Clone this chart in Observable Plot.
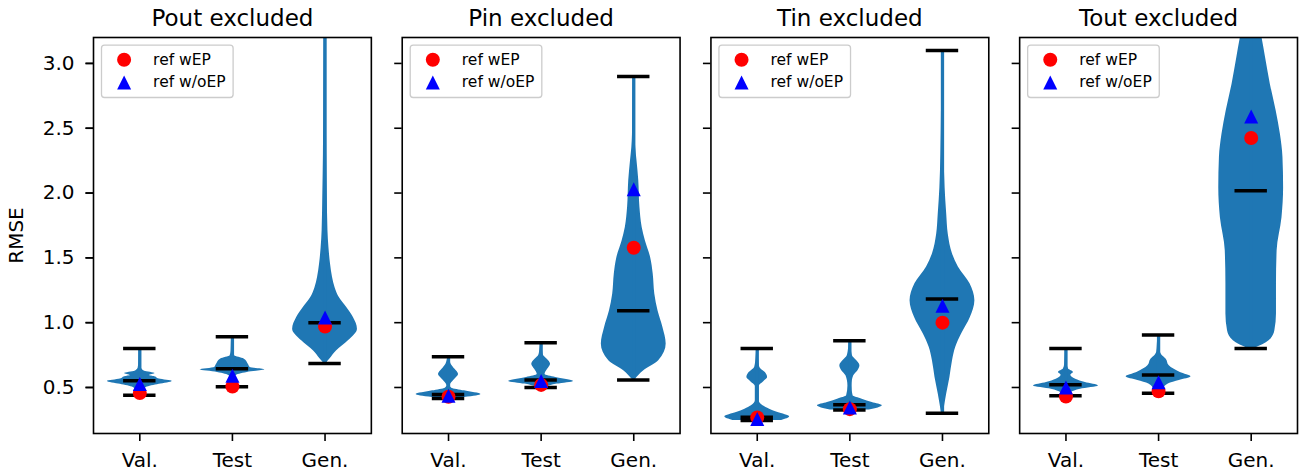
<!DOCTYPE html>
<html><head><meta charset="utf-8">
<script src="https://cdn.jsdelivr.net/npm/d3@7"></script>
<script src="https://cdn.jsdelivr.net/npm/@observablehq/plot@0.6"></script>
<style>
html,body{margin:0;padding:0;background:#fff;}
#chart svg{display:block;}
</style></head><body><div id="chart"></div>
<script>
// ---- data ----
const panels = ["Pout excluded", "Pin excluded", "Tin excluded", "Tout excluded"];
const splits = ["Val.", "Test", "Gen."];
const yTicks = [0.5, 1.0, 1.5, 2.0, 2.5, 3.0];

// per panel: [Val., Test, Gen.]
const mins    = [[0.44, 0.505, 0.685], [0.415, 0.50, 0.557], [0.245, 0.326, 0.302], [0.436, 0.455, 0.80]];
const maxs    = [[0.80, 0.891, 3.60],  [0.737, 0.845, 2.90], [0.80, 0.86, 3.10],    [0.80, 0.904, 3.60]];
const medians = [[0.552, 0.644, 1.00], [0.445, 0.557, 1.092], [0.27, 0.367, 1.182], [0.521, 0.596, 2.018]];
const refWEP  = [[0.457, 0.508, 0.971], [0.428, 0.52, 1.578], [0.268, 0.333, 1.00], [0.43, 0.47, 2.425]];
const refWoEP = [[0.526, 0.59, 1.04],  [0.436, 0.55, 2.03],  [0.256, 0.345, 1.13], [0.50, 0.54, 2.59]];

// violin density profiles: [RMSE, relative density]
const poutVal  = [[.44,.03],[.47,.08],[.50,.2],[.525,.6],[.547,1],[.565,.6],[.583,.46],[.592,.3],[.608,.47],[.625,.15],[.65,.05],[.70,.03],[.80,.02]];
const poutTest = [[.505,.03],[.56,.05],[.59,.1],[.616,.46],[.636,1],[.655,.55],[.68,.49],[.72,.36],[.745,.07],[.78,.04],[.85,.03],[.891,.02]];
const poutGen  = [[.685,.03],[.72,.15],[.783,.36],[.86,.72],[.95,1],[1.04,.875],[1.117,.67],[1.194,.44],[1.27,.31],[1.35,.23],[1.45,.17],[1.58,.12],[1.71,.09],[1.97,.07],[2.3,.05],[2.8,.04],[3.3,.03],[3.6,.02]];
const pinVal   = [[.415,.1],[.423,.49],[.445,1],[.474,.49],[.495,.1],[.513,.05],[.56,.18],[.60,.31],[.64,.2],[.68,.08],[.71,.04],[.737,.02]];
const pinTest  = [[.50,.1],[.526,.5],[.547,1],[.577,.45],[.60,.12],[.64,.2],[.68,.29],[.72,.18],[.745,.08],[.79,.04],[.845,.02]];
const pinGen   = [[.557,.03],[.629,.31],[.706,.77],[.835,1],[.963,.9],[1.09,.75],[1.22,.65],[1.375,.6],[1.503,.52],[1.63,.36],[1.735,.26],[1.89,.19],[2.095,.155],[2.25,.1],[2.35,.06],[2.45,.04],[2.7,.03],[2.90,.02]];
const tinVal   = [[.245,.75],[.274,1],[.307,.64],[.333,.38],[.359,.18],[.398,.06],[.51,.06],[.545,.2],[.577,.32],[.615,.25],[.655,.08],[.72,.04],[.80,.02]];
const tinTest  = [[.326,.6],[.359,1],[.384,.69],[.41,.38],[.436,.1],[.512,.06],[.59,.12],[.63,.25],[.668,.31],[.71,.2],[.745,.08],[.80,.04],[.86,.02]];
const tinGen   = [[.302,.03],[.449,.13],[.577,.23],[.706,.31],[.81,.41],[.912,.59],[1.04,.86],[1.17,1],[1.30,.85],[1.43,.49],[1.53,.31],[1.68,.18],[1.84,.13],[2.04,.08],[2.3,.05],[2.65,.03],[3.10,.02]];
const toutVal  = [[.436,.05],[.46,.15],[.487,.45],[.512,1],[.538,.6],[.564,.3],[.595,.15],[.616,.23],[.642,.08],[.68,.04],[.80,.02]];
const toutTest = [[.455,.05],[.49,.15],[.526,.3],[.553,.64],[.582,1],[.616,.67],[.667,.33],[.72,.23],[.745,.12],[.77,.06],[.83,.04],[.904,.02]];
const toutGen  = [[.80,.1],[.86,.55],[.937,.73],[1.066,.78],[1.30,.78],[1.555,.8],[1.81,.95],[2.04,1],[2.275,.98],[2.455,.9],[2.635,.77],[2.84,.59],[3.05,.44],[3.19,.34],[3.3,.25],[3.45,.12],[3.6,.03]];

const profiles = [[poutVal, poutTest, poutGen], [pinVal, pinTest, pinGen], [tinVal, tinTest, tinGen], [toutVal, toutTest, toutGen]];

// ---- tables built from arrays ----
const violinRows = [], statRows = [], lineRows = [];
panels.forEach((panel, p) => {
  splits.forEach((s, i) => {
    const pos = i + 1;
    profiles[p][i].forEach(([y, w]) => violinRows.push({panel, pos, key: panel + s, y, w}));
    statRows.push({panel, pos, min: mins[p][i], max: maxs[p][i], wep: refWEP[p][i], woep: refWoEP[p][i]});
    [mins[p][i], maxs[p][i], medians[p][i]].forEach(v => lineRows.push({panel, pos, v}));
  });
});

// ---- layout ----
const W = 1307, H = 474, mL = 93, mR = 10, mT = 37, mB = 41;
const pad = 0.1;
const bw = (W - mL - mR) / (panels.length - pad) * (1 - pad);
const vHalf = 0.35, lineHalf = 0.175;
const blue = "#1f77b4";

const tri = {draw(ctx, size) {
  const h = Math.sqrt(size / Math.PI);
  ctx.moveTo(0, -h); ctx.lineTo(h, h); ctx.lineTo(-h, h); ctx.closePath();
}};

const chart = Plot.plot({
  width: W, height: H,
  marginLeft: mL, marginRight: mR, marginTop: mT, marginBottom: mB,
  style: {fontFamily: "DejaVu Sans", fontSize: "20px", color: "black", background: "white"},
  fx: {domain: panels, paddingInner: pad, paddingOuter: 0, round: false, label: null},
  x: {domain: [0.5, 3.5]},
  y: {domain: [0.145, 3.2]},
  marks: [
    Plot.areaX(violinRows, {fx: "panel", y: "y", x1: d => d.pos - vHalf * d.w, x2: d => d.pos + vHalf * d.w, z: "key", fill: blue, curve: "monotone-y", clip: true}),
    Plot.ruleX(statRows, {fx: "panel", x: "pos", y1: "min", y2: "max", stroke: blue, strokeWidth: 3.3, clip: true}),
    Plot.ruleY(lineRows, {fx: "panel", y: "v", x1: d => d.pos - lineHalf, x2: d => d.pos + lineHalf, stroke: "black", strokeWidth: 3.5, clip: true}),
    Plot.dot(statRows, {fx: "panel", x: "pos", y: "wep", r: 7, fill: "red", symbol: "circle"}),
    Plot.dot(statRows, {fx: "panel", x: "pos", y: "woep", r: 7, fill: "blue", symbol: tri}),
    Plot.frame({stroke: "black", strokeWidth: 1.6}),
    // legend
    Plot.frame({insetLeft: 8, insetTop: 7.6, insetRight: bw - 139.6, insetBottom: (H - mT - mB) - 60, fill: "white", fillOpacity: 0.8, stroke: "#cccccc", strokeWidth: 1.3, rx: 3}),
    Plot.dot([0], {frameAnchor: "top-left", dx: 30.6, dy: 22.3, r: 7, fill: "red", symbol: "circle"}),
    Plot.dot([0], {frameAnchor: "top-left", dx: 30.6, dy: 45, r: 7, fill: "blue", symbol: tri}),
    Plot.text(["ref wEP"], {frameAnchor: "top-left", dx: 59.6, dy: 22.3, textAnchor: "start", lineAnchor: "middle", fontSize: 15.5}),
    Plot.text(["ref w/oEP"], {frameAnchor: "top-left", dx: 59.6, dy: 45, textAnchor: "start", lineAnchor: "middle", fontSize: 15.5}),
    // axes
    Plot.axisFx({anchor: "top", label: null, tickSize: 0, tickPadding: 12, fontSize: 23}),
    Plot.axisX({ticks: [1, 2, 3], tickFormat: d => splits[d - 1], tickSize: 8, tickPadding: 11, strokeWidth: 1.6, label: null, fontSize: 20}),
    Plot.axisY({ticks: yTicks, tickFormat: d => d.toFixed(1), tickSize: 7.5, tickPadding: 11.5, strokeWidth: 1.6, label: "RMSE", labelAnchor: "center", labelArrow: "none", labelOffset: 85, fontSize: 20}),
    Plot.axisY({ticks: yTicks, tickFormat: () => "", tickSize: 7.5, strokeWidth: 1.6, label: null, facetAnchor: null})
  ]
});
document.getElementById("chart").appendChild(chart);
</script>
</body></html>
